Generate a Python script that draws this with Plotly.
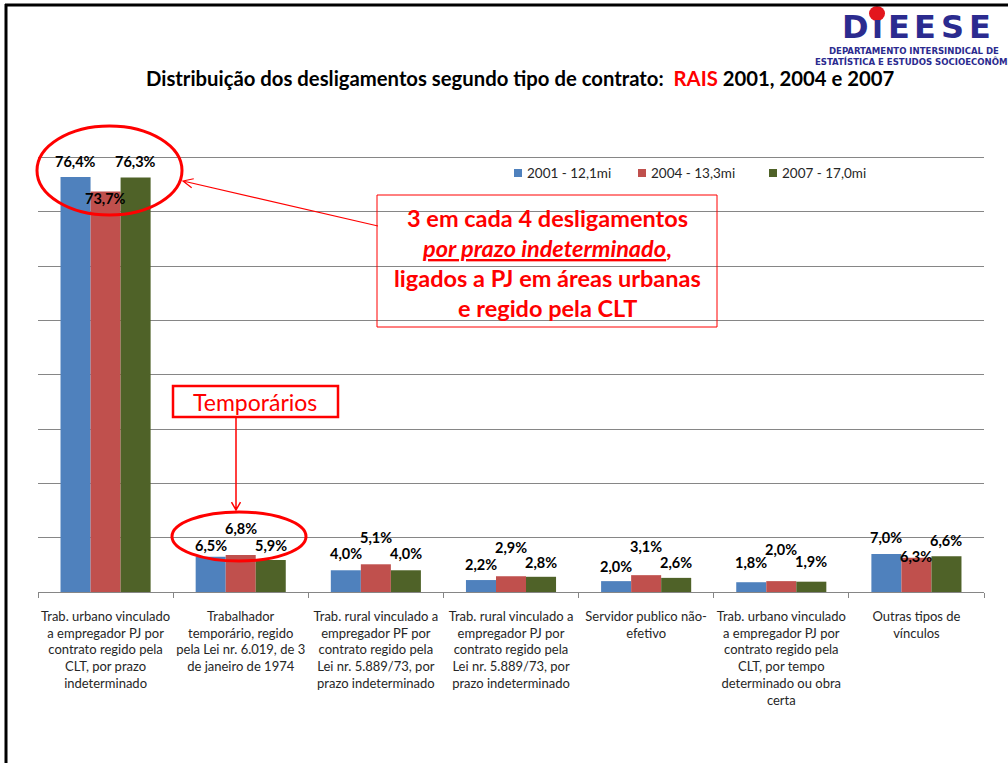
import math
import plotly.graph_objects as go

# ---------------- data ----------------
categories = [
    "Trab. urbano vinculado<br>a empregador PJ por<br>contrato regido pela<br>CLT, por prazo<br>indeterminado",
    "Trabalhador<br>temporário, regido<br>pela Lei nr. 6.019, de 3<br>de janeiro de 1974",
    "Trab. rural vinculado a<br>empregador PF por<br>contrato regido pela<br>Lei nr. 5.889/73, por<br>prazo indeterminado",
    "Trab. rural vinculado a<br>empregador PJ por<br>contrato regido pela<br>Lei nr. 5.889/73, por<br>prazo indeterminado",
    "Servidor publico não-<br>efetivo",
    "Trab. urbano vinculado<br>a empregador PJ por<br>contrato regido pela<br>CLT, por tempo<br>determinado ou obra<br>certa",
    "Outras tipos de<br>vínculos",
]
series_names = ["2001 - 12,1mi", "2004 - 13,3mi", "2007 - 17,0mi"]
v2001 = [76.4, 6.5, 4.0, 2.2, 2.0, 1.8, 7.0]
v2004 = [73.7, 6.8, 5.1, 2.9, 3.1, 2.0, 6.3]
v2007 = [76.3, 5.9, 4.0, 2.8, 2.6, 1.9, 6.6]
series_values = [v2001, v2004, v2007]

# label nudges (pixels above bar top, as placed in the original slide)
label_nudge = [
    [15, 11, 17, 16, 15, 20, 16],
    [-7, 27, 27, 29, 29, 32, 1],
    [16, 14, 17, 14, 15, 20, 16],
]

colors = ["#4F81BD", "#C0504D", "#4F6228"]
RED = "#FF0000"
NAVY = "#2B2B8F"
FONT = "Lato, Carlito, Open Sans, sans-serif"

W, H = 1008, 763
L, R, T, B = 38, 984, 103, 592


def fx(px):
    return (px - L) / (R - L)


def fy(py):
    return (B - py) / (B - T)


fig = go.Figure()
for name, vals, col in zip(series_names, series_values, colors):
    fig.add_trace(go.Bar(
        x=categories, y=vals, name=name,
        marker=dict(color=col, line=dict(width=0)),
        hoverinfo="skip", showlegend=False,
    ))

annotations = []
shapes = []

# data labels
bar_w = (R - L) / len(categories) * (1 - 1 / 3) / 3
for si, vals in enumerate(series_values):
    for ci, v in enumerate(vals):
        annotations.append(dict(
            x=categories[ci], y=v, xref="x", yref="y",
            xshift=(si - 1) * bar_w, yshift=label_nudge[si][ci],
            text=f"{v:.1f}%".replace(".", ","), showarrow=False,
            font=dict(family=FONT, size=14.5, color="black", weight="bold"),
            xanchor="center", yanchor="middle",
        ))

# legend (drawn manually to match the slide spacing)
legend_sq = [518, 642, 773]
for name, col, sx in zip(series_names, colors, legend_sq):
    shapes.append(dict(type="rect", xref="paper", yref="paper",
                       x0=fx(sx - 4), x1=fx(sx + 4), y0=fy(177), y1=fy(169),
                       fillcolor=col, line=dict(width=0)))
    annotations.append(dict(
        x=fx(sx + 7), y=fy(173), xref="paper", yref="paper", text=name,
        showarrow=False, font=dict(family=FONT, size=13.5, color="#262626"),
        xanchor="left", yanchor="middle",
    ))

# title
annotations.append(dict(
    x=fx(520), y=fy(78), xref="paper", yref="paper",
    text="Distribuição dos desligamentos segundo tipo de contrato:  "
         "<span style='color:#FF0000'>RAIS</span> 2001, 2004 e 2007",
    showarrow=False, font=dict(family=FONT, size=20.3, color="black", weight="bold"),
    xanchor="center", yanchor="middle",
))

# logo
logo_font = dict(family="DejaVu Sans, sans-serif", size=32, color=NAVY, weight="bold")
for ch, cx in zip(["D", "ı", "E", "E", "S", "E"], [855, 877, 899, 925, 952, 980]):
    annotations.append(dict(
        x=fx(cx), y=fy(27), xref="paper", yref="paper", text=ch, showarrow=False,
        font=logo_font, xanchor="center", yanchor="middle",
    ))
shapes.append(dict(type="circle", xref="paper", yref="paper",
                   x0=fx(869), x1=fx(885), y0=fy(21), y1=fy(6),
                   fillcolor="#E3161D", line=dict(width=0)))
small_logo = dict(family="Liberation Sans Narrow, DejaVu Sans Condensed, Arial Narrow, sans-serif",
                  size=9.5, color=NAVY, weight="bold")
annotations.append(dict(
    x=fx(914), y=fy(50), xref="paper", yref="paper",
    text="DEPARTAMENTO INTERSINDICAL DE", showarrow=False,
    font=small_logo, xanchor="center", yanchor="middle",
))
annotations.append(dict(
    x=fx(813), y=fy(62), xref="paper", yref="paper",
    text="ESTATÍSTICA E ESTUDOS SOCIOECONÔMICOS", showarrow=False,
    font=small_logo, xanchor="left", yanchor="middle",
))

# slide border (top & left)
shapes.append(dict(type="line", xref="paper", yref="paper",
                   x0=fx(5), x1=fx(1010), y0=fy(5), y1=fy(5),
                   line=dict(color="black", width=3)))
shapes.append(dict(type="line", xref="paper", yref="paper",
                   x0=fx(6), x1=fx(6), y0=fy(4), y1=fy(770),
                   line=dict(color="black", width=3)))

# ellipses
shapes.append(dict(type="circle", xref="paper", yref="paper",
                   x0=fx(37), x1=fx(182), y0=fy(215), y1=fy(126),
                   line=dict(color=RED, width=3)))
shapes.append(dict(type="circle", xref="paper", yref="paper",
                   x0=fx(172), x1=fx(306), y0=fy(561), y1=fy(512),
                   line=dict(color=RED, width=3)))

# Temporários box
shapes.append(dict(type="rect", xref="paper", yref="paper",
                   x0=fx(173), x1=fx(338), y0=fy(417), y1=fy(386),
                   line=dict(color=RED, width=2.5)))
annotations.append(dict(
    x=fx(255), y=fy(402), xref="paper", yref="paper", text="Temporários",
    showarrow=False, font=dict(family=FONT, size=23, color=RED),
    xanchor="center", yanchor="middle",
))

# main text box
shapes.append(dict(type="rect", xref="paper", yref="paper",
                   x0=fx(377), x1=fx(717), y0=fy(327), y1=fy(195),
                   line=dict(color=RED, width=1)))
box_lines = [
    ("3 em cada 4 desligamentos", 218),
    ("<i><u>por prazo indeterminado</u></i>,", 248),
    ("ligados a PJ em áreas urbanas", 278),
    ("e regido pela CLT", 308),
]
for txt, yy in box_lines:
    annotations.append(dict(
        x=fx(547), y=fy(yy), xref="paper", yref="paper", text=txt,
        showarrow=False, font=dict(family=FONT, size=23.5, color=RED, weight="bold"),
        xanchor="center", yanchor="middle",
    ))


def arrow_path(x1, y1, x2, y2, head=10, ang=28):
    """line from (x1,y1) to tip (x2,y2) with open V head, pixel coords -> paper path"""
    dx, dy = x1 - x2, y1 - y2
    n = math.hypot(dx, dy)
    ux, uy = dx / n, dy / n
    pts = []
    for s in (1, -1):
        a = math.radians(ang) * s
        rx = ux * math.cos(a) - uy * math.sin(a)
        ry = ux * math.sin(a) + uy * math.cos(a)
        pts.append((x2 + rx * head, y2 + ry * head))
    p = (f"M {fx(x1)},{fy(y1)} L {fx(x2)},{fy(y2)} "
         f"M {fx(pts[0][0])},{fy(pts[0][1])} L {fx(x2)},{fy(y2)} L {fx(pts[1][0])},{fy(pts[1][1])}")
    return p


shapes.append(dict(type="path", xref="paper", yref="paper",
                   path=arrow_path(378, 226, 183, 181, head=11, ang=25),
                   line=dict(color=RED, width=1.2)))
shapes.append(dict(type="path", xref="paper", yref="paper",
                   path=arrow_path(236, 417, 236, 510, head=9, ang=30),
                   line=dict(color=RED, width=1.5)))

fig.update_layout(
    width=W, height=H,
    margin=dict(l=L, r=W - R, t=T, b=H - B, pad=0, autoexpand=False),
    paper_bgcolor="white", plot_bgcolor="white",
    barmode="group", bargap=1 / 3, bargroupgap=0,
    font=dict(family=FONT, color="#262626"),
    showlegend=False,
    xaxis=dict(
        showgrid=False, showline=True, linecolor="#868686", linewidth=1,
        ticks="outside", tickson="boundaries", ticklen=5, tickcolor="#868686",
        tickfont=dict(family=FONT, size=13, color="#262626"),
        tickangle=0, automargin=False, ticklabelstandoff=12,
    ),
    yaxis=dict(
        range=[0, 90], dtick=10, showgrid=True, gridcolor="#868686", gridwidth=1,
        showticklabels=False, zeroline=False, showline=False, automargin=False,
    ),
    annotations=annotations,
    shapes=shapes,
)

fig.write_html(
    "out.html",
    config={"displayModeBar": False},
    post_script="document.body.style.margin='0';document.body.style.overflow='hidden';",
)
